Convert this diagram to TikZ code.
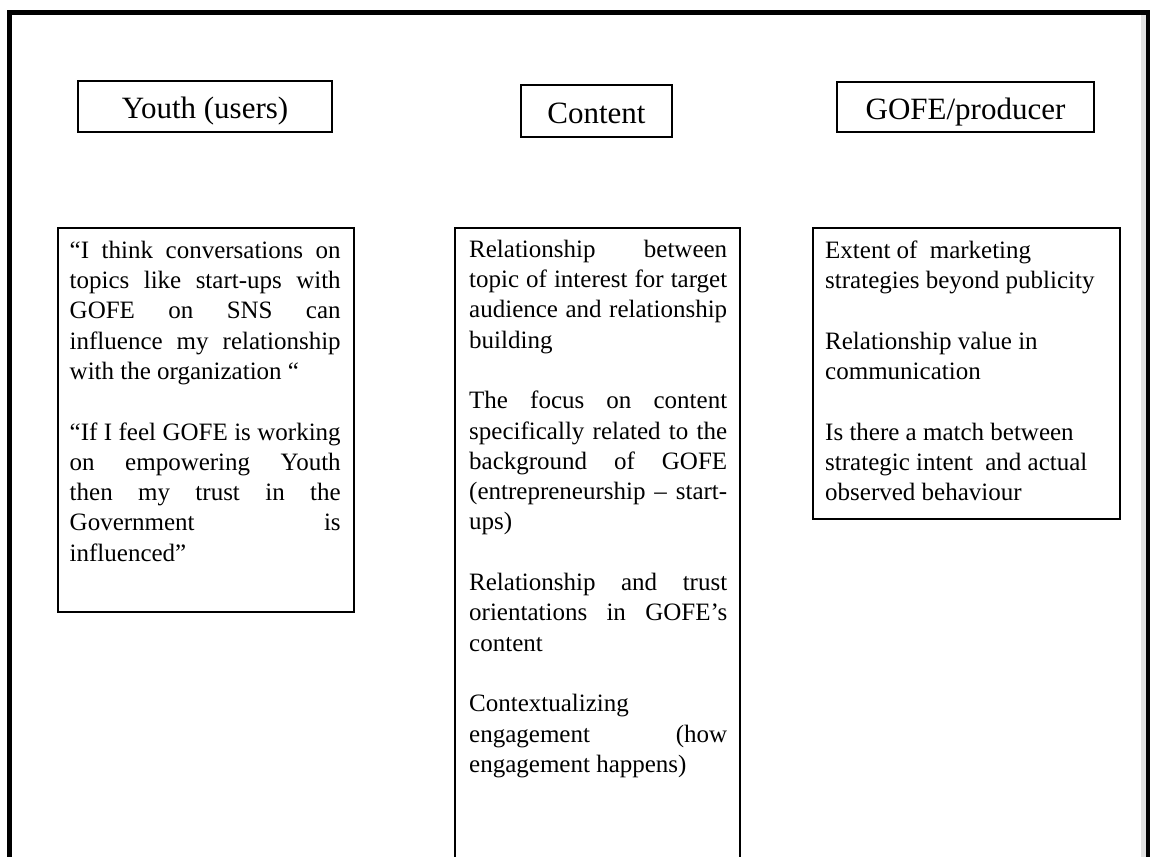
\documentclass[tikz,border=0pt]{standalone}
\usepackage{fontspec}
\setmainfont{Liberation Serif}
\hbadness=10000
% one line of a justified paragraph, and a ragged (last) line;
% the font's own interword glue is restored inside each line
\newcommand\jl[2]{{\spaceskip=0pt\xspaceskip=0pt\makebox[#1][s]{\strut#2}}}
\newcommand\rl[2]{{\spaceskip=0pt\xspaceskip=0pt\makebox[#1][l]{\strut#2}}}
\begin{document}
\begin{tikzpicture}[x=1pt,y=-1pt,
  hdrbox/.style={draw, line width=2pt, inner sep=0pt,
    text height=27pt, text depth=2.5pt,
    font=\fontsize{31}{36}\selectfont},
  bodybox/.style={draw, line width=2pt, inner sep=0pt},
  bodytext/.style={inner sep=0pt, anchor=north west, align=left,
    font=\fontsize{25}{30.3}\selectfont}]

\path[use as bounding box] (0,0) rectangle (1150,856);
\clip (0,0) rectangle (1150,856);

% outer frame with its light inner edge on the right
\fill[black!12] (1141,15) rectangle (1146,900);
\draw[line width=5pt] (9.5,900) -- (9.5,12.5) -- (1148.5,12.5) -- (1148.5,900);

% column headers
\node[hdrbox, minimum width=254pt, minimum height=51pt] (youthhdr) at (205,106.5) {Youth (users)};
\node[hdrbox, minimum width=151pt, minimum height=52pt] (contenthdr) at (596.5,111) {Content};
\node[hdrbox, minimum width=257pt, minimum height=50pt] (gofehdr) at (965.5,107) {GOFE/producer};

% column boxes
\node[bodybox, minimum width=296pt, minimum height=384pt] (youthbox) at (206,420) {};
\node[bodybox, minimum width=285pt, minimum height=660pt] (contentbox) at (597.5,558) {};
\node[bodybox, minimum width=307pt, minimum height=291pt] (gofebox) at (966.5,373.5) {};

% column texts
\node[bodytext, text width=271pt] (youthtxt) at (69.5,236.8) {\noindent
\jl{271pt}{“I think conversations on}\\
\jl{271pt}{topics like start-ups with}\\
\jl{271pt}{GOFE on SNS can}\\
\jl{271pt}{influence my relationship}\\
\rl{271pt}{with the organization “}\\
\strut\\
\jl{271pt}{“If I feel GOFE is working}\\
\jl{271pt}{on empowering Youth}\\
\jl{271pt}{then my trust in the}\\
\jl{271pt}{Government is}\\
\rl{271pt}{influenced”}};

\node[bodytext, text width=258pt] (contenttxt) at (469,235.8) {\noindent
\jl{258pt}{Relationship between}\\
\jl{258pt}{topic of interest for target}\\
\jl{258pt}{audience and relationship}\\
\rl{258pt}{building}\\
\strut\\
\jl{258pt}{The focus on content}\\
\jl{258pt}{specifically related to the}\\
\jl{258pt}{background of GOFE}\\
\jl{258pt}{(entrepreneurship – start-}\\
\rl{258pt}{ups)}\\
\strut\\
\jl{258pt}{Relationship and trust}\\
\jl{258pt}{orientations in GOFE’s}\\
\rl{258pt}{content}\\
\strut\\
\rl{258pt}{Contextualizing}\\
\jl{258pt}{engagement (how}\\
\rl{258pt}{engagement happens)}};

\node[bodytext, text width=290pt] (gofetxt) at (825,236.8) {\noindent
\rl{290pt}{Extent of\hspace{6pt} marketing}\\
\rl{290pt}{strategies beyond publicity}\\
\strut\\
\rl{290pt}{Relationship value in}\\
\rl{290pt}{communication}\\
\strut\\
\rl{290pt}{Is there a match between}\\
\rl{290pt}{strategic intent\hspace{6pt} and actual}\\
\rl{290pt}{observed behaviour}};
\end{tikzpicture}
\end{document}
